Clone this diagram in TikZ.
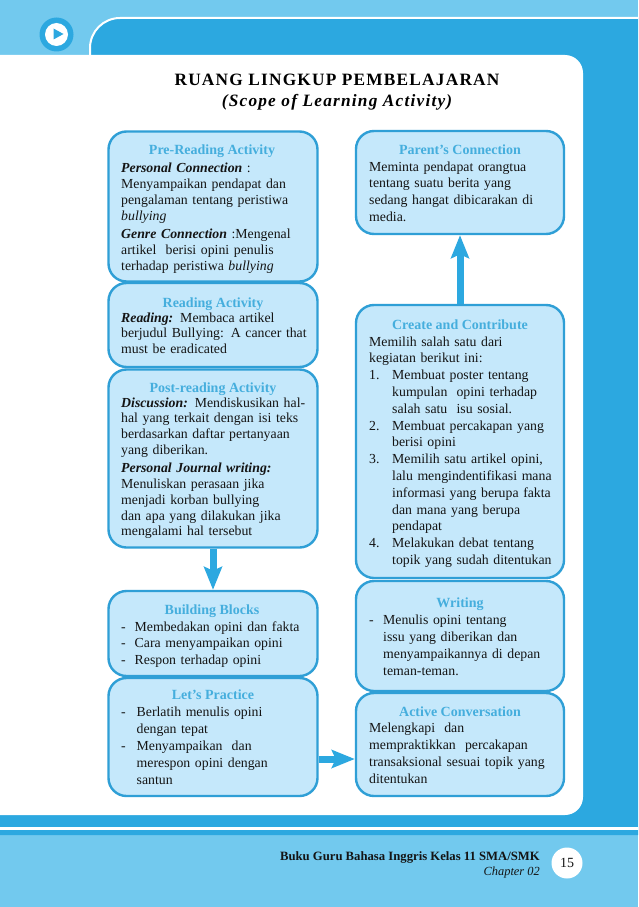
\documentclass[tikz,border=0pt]{standalone}
\usepackage{fontspec}
\setmainfont{Liberation Serif}
\newfontfamily\titlefont[LetterSpace=7.0]{Liberation Serif}
\usetikzlibrary{arrows.meta}

\definecolor{pagelight}{HTML}{72C9EE}
\definecolor{pagedark}{HTML}{2CA8E0}
\definecolor{boxfill}{HTML}{C5E8FB}
\definecolor{boxline}{HTML}{2F9FD6}
\definecolor{headblue}{HTML}{45AEDD}
\definecolor{inktext}{HTML}{141414}

\newlength{\leadwidth}
\newcommand{\leadin}[1]{\makebox[\leadwidth][l]{#1}}
\newcommand{\leadpad}{\hspace*{\leadwidth}}

\tikzset{
  stagebox/.style={draw=boxline,fill=boxfill,line width=2.4pt,rounded corners=18pt,inner sep=0pt},
  stagehead/.style={text=headblue,font=\fontsize{14}{15}\selectfont\bfseries,inner sep=0pt,anchor=base},
  stagetext/.style={text=inktext,font=\fontsize{13.8}{#1}\selectfont,align=left,inner sep=0pt,
    anchor=north west,text width=195pt,execute at begin node={\strut}},
  flow/.style={draw=pagedark,line width=7pt,-{Stealth[length=23pt,width=18pt,inset=4pt]}},
}

\begin{document}
\begin{tikzpicture}[x=1pt,y=-1pt]
  \useasboundingbox (0,0) rectangle (638,907);

  % page background
  \fill[pagelight] (0,0) rectangle (638,907);
  \fill[pagedark] (90,56) [rounded corners=30pt] -- (90,18) [sharp corners] -- (638,18)
    -- (638,835) -- (0,835) -- (0,56) -- cycle;
  \draw[white,line width=2pt] (90,56) [rounded corners=30pt] -- (90,18) [sharp corners] -- (638,18);
  \fill[white] (0,55) [rounded corners=18pt] -- (583,55) -- (583,815) [sharp corners] -- (0,815) -- cycle;
  \fill[white] (0,827) rectangle (638,830);

  % play icon
  \node[circle,fill=pagedark,minimum size=34pt,inner sep=0pt] (playring) at (56.5,34.5) {};
  \node[circle,fill=white,minimum size=23pt,inner sep=0pt] (playdisc) at (playring) {};
  \fill[pagedark] (53.5,28.5) -- (63.5,34) -- (53.5,39.5) -- cycle;

  % title
  \node[font=\titlefont\fontsize{17.3}{18}\selectfont\bfseries,anchor=base,inner sep=0pt] (maintitle) at (337,85) {RUANG LINGKUP PEMBELAJARAN};
  \node[font=\titlefont\fontsize{17.3}{18}\selectfont\bfseries\itshape,anchor=base,inner sep=0pt] (subtitle) at (337,106) {(Scope of Learning Activity)};

  % left column
  \node[stagebox,minimum width=209pt,minimum height=150pt] (prereading) at (213,206.5) {};
  \node[stagebox,minimum width=209pt,minimum height=84pt] (reading) at (213,325) {};
  \node[stagebox,minimum width=209pt,minimum height=178pt] (postreading) at (213,458.5) {};
  \node[stagebox,minimum width=209pt,minimum height=85pt] (buildingblocks) at (213,633.5) {};
  \node[stagebox,minimum width=209pt,minimum height=118pt] (letspractice) at (213,737) {};

  % right column
  \node[stagebox,minimum width=208pt,minimum height=103pt] (parentconn) at (460,182.5) {};
  \node[stagebox,minimum width=208pt,minimum height=273pt] (createbox) at (460,441.5) {};
  \node[stagebox,minimum width=208pt,minimum height=110pt] (writing) at (460,636) {};
  \node[stagebox,minimum width=208pt,minimum height=103pt] (activeconv) at (460,744.5) {};

  % arrows
  \draw[flow] (postreading.south) -- (buildingblocks.north);
  \draw[flow] ([yshift=-22pt]letspractice.east) -- ([yshift=-14.5pt]activeconv.west);
  \draw[flow] (createbox.north) -- (parentconn.south);

  % headings
  \node[stagehead] (prereadinghead) at (212,154) {Pre-Reading Activity};
  \node[stagehead] (readinghead) at (213,307) {Reading Activity};
  \node[stagehead] (postreadinghead) at (213,392) {Post-reading Activity};
  \node[stagehead] (buildinghead) at (212,614) {Building Blocks};
  \node[stagehead] (practicehead) at (213,699) {Let’s Practice};
  \node[stagehead] (parenthead) at (460,154) {Parent’s Connection};
  \node[stagehead] (createhead) at (460,329) {Create and Contribute};
  \node[stagehead] (writinghead) at (460,607) {Writing};
  \node[stagehead] (activehead) at (460,716) {Active Conversation};

  % texts
  \node[stagetext=16.2] (prereadingtext) at (121,160.7) {\textbf{\textit{Personal Connection}} :\\
    Menyampaikan pendapat dan\\
    pengalaman tentang peristiwa\\
    \textit{bullying}\\[1.5pt]
    \textbf{\textit{Genre Connection}} :Mengenal\\
    artikel\ \ berisi opini penulis\\
    terhadap peristiwa \textit{bullying}};
  \node[stagetext=15.5] (readingtext) at (121,311.2) {\textbf{\textit{Reading:}} Membaca artikel\\
    berjudul Bullying: A cancer that\\
    must be eradicated};
  \node[stagetext=15.7] (postreadingtext) at (121,396) {\textbf{\textit{Discussion:}} Mendiskusikan hal-\\
    hal yang terkait dengan isi teks\\
    berdasarkan daftar pertanyaan\\
    yang diberikan.\\[3pt]
    \textbf{\textit{Personal Journal writing:}}\\
    Menuliskan perasaan jika\\
    menjadi korban bullying\\
    dan apa yang dilakukan jika\\
    mengalami hal tersebut};
  \node[stagetext=16.5] (buildingtext) at (121,619.5) {\setlength{\leadwidth}{13.5pt}\leadin{-}Membedakan opini dan fakta\\
    \leadin{-}Cara menyampaikan opini\\
    \leadin{-}Respon terhadap opini};
  \node[stagetext=17] (practicetext) at (121,704) {\setlength{\leadwidth}{15.5pt}\leadin{-}Berlatih menulis opini\\
    \leadpad dengan tepat\\
    \leadin{-}Menyampaikan\ \ dan\\
    \leadpad merespon opini dengan\\
    \leadpad santun};
  \node[stagetext=16.6] (parenttext) at (369,159.4) {Meminta pendapat orangtua\\
    tentang suatu berita yang\\
    sedang hangat dibicarakan di\\
    media.};
  \node[stagetext=16.8] (createtext) at (369,334.2) {\setlength{\leadwidth}{23pt}Memilih salah satu dari\\
    kegiatan berikut ini:\\
    \leadin{1.}Membuat poster tentang\\
    \leadpad kumpulan\ \ opini terhadap\\
    \leadpad salah satu\ \ isu sosial.\\
    \leadin{2.}Membuat percakapan yang\\
    \leadpad berisi opini\\
    \leadin{3.}Memilih satu artikel opini,\\
    \leadpad lalu mengindentifikasi mana\\
    \leadpad informasi yang berupa fakta\\
    \leadpad dan mana yang berupa\\
    \leadpad pendapat\\
    \leadin{4.}Melakukan debat tentang\\
    \leadpad topik yang sudah ditentukan};
  \node[stagetext=17] (writingtext) at (369,612) {\setlength{\leadwidth}{14pt}\leadin{-}Menulis opini tentang\\
    \leadpad issu yang diberikan dan\\
    \leadpad menyampaikannya di depan\\
    \leadpad teman-teman.};
  \node[stagetext=17] (activetext) at (369,720) {Melengkapi\ \ dan\\
    mempraktikkan\ \ percakapan\\
    transaksional sesuai topik yang\\
    ditentukan};

  % footer
  \node[font=\fontsize{12.7}{14}\selectfont\bfseries,text=inktext,anchor=base east,inner sep=0pt] (bookname) at (540,860) {Buku Guru Bahasa Inggris Kelas 11 SMA/SMK};
  \node[font=\fontsize{12.4}{14}\selectfont\itshape,text=inktext,anchor=base east,inner sep=0pt] (chaptername) at (540,875) {Chapter 02};
  \node[circle,fill=white,minimum size=31pt,inner sep=0pt,font=\fontsize{14}{16}\selectfont,text=inktext] (pagenum) at (567,863) {15};
\end{tikzpicture}
\end{document}
